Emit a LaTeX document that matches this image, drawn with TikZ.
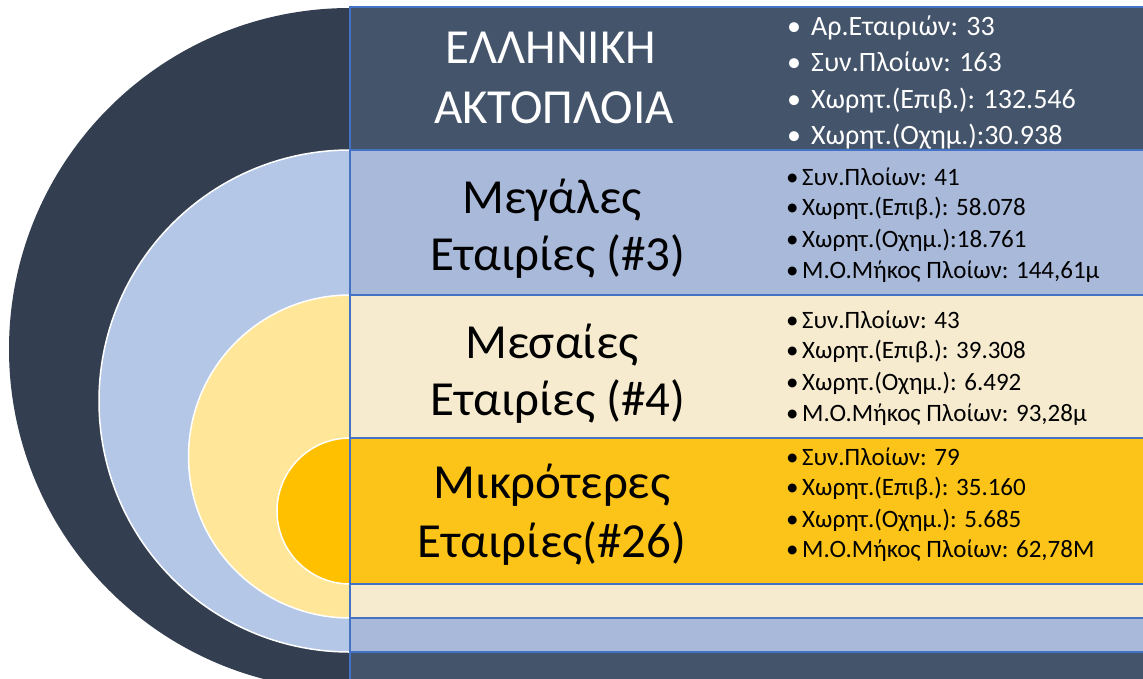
\documentclass[tikz,border=0pt]{standalone}
\usepackage{fontspec}
\setmainfont{Carlito}
\definecolor{darkband}{HTML}{44546A}
\definecolor{darkell}{HTML}{333F50}
\definecolor{blueband}{HTML}{A9B9D9}
\definecolor{blueell}{HTML}{B4C7E7}
\definecolor{creamband}{HTML}{F6EBCF}
\definecolor{creamell}{HTML}{FFE699}
\definecolor{yelband}{HTML}{FCC419}
\definecolor{yelell}{HTML}{FFC000}
\definecolor{sepline}{HTML}{4472C4}
\begin{document}
\begin{tikzpicture}[x=1pt,y=-1pt,
  band/.style={draw=sepline, line width=1.5pt},
  ell/.style={draw=white, line width=1.5pt},
  title/.style={anchor=base, inner sep=0pt, font=\fontsize{49}{58}\selectfont},
  topitem/.style={anchor=base west, inner sep=0pt, text=white, font=\fontsize{28}{34}\selectfont},
  item/.style={anchor=base west, inner sep=0pt, text=black, font=\fontsize{25}{30}\selectfont},
]
\useasboundingbox (0,0) rectangle (1143,678);
\fill[white] (0,0) rectangle (1143,678);

% half circles on the left
\begin{scope}
  \clip (0,0) rectangle (350,678);
  \fill[darkell] (350,349) circle[radius=341pt];
  \filldraw[ell, fill=blueell] (350,401) circle[radius=251pt];
  \filldraw[ell, fill=creamell] (350,456.5) circle[radius=161.5pt];
  \filldraw[ell, fill=yelell] (350,511) circle[radius=73pt];
\end{scope}

% bands on the right
\begin{scope}
  \clip (0,0) rectangle (1143,678);
  \filldraw[band, fill=darkband] (350,7) rectangle (1150,150);
  \filldraw[band, fill=blueband] (350,150) rectangle (1150,295);
  \filldraw[band, fill=creamband] (350,295) rectangle (1150,438);
  \filldraw[band, fill=yelband] (350,438) rectangle (1150,584);
  \filldraw[band, fill=creamband] (350,584) rectangle (1150,618);
  \filldraw[band, fill=blueband] (350,618) rectangle (1150,652);
  \filldraw[band, fill=darkband] (350,652) rectangle (1150,690);
\end{scope}

% titles
\node[title, text=white] (t1a) at (551,63) {ΕΛΛΗΝΙΚΗ};
\node[title, text=white] (t1b) at (554,123) {ΑΚΤΟΠΛΟΙΑ};
\node[title] (t2a) at (552,213) {Μεγάλες};
\node[title] (t2b) at (558,270) {Εταιρίες (\#3)};
\node[title] (t3a) at (552,358) {Μεσαίες};
\node[title] (t3b) at (558,415) {Εταιρίες (\#4)};
\node[title] (t4a) at (552,498) {Μικρότερες};
\node[title] (t4b) at (552,557) {Εταιρίες(\#26)};

% bullet lists
\node[topitem] (a1) at (787,35) {\makebox[24pt][l]{•}Αρ.Εταιριών: 33};
\node[topitem] (a2) at (787,71.5) {\makebox[24pt][l]{•}Συν.Πλοίων: 163};
\node[topitem] (a3) at (787,108) {\makebox[24pt][l]{•}Χωρητ.(Επιβ.): 132.546};
\node[topitem] (a4) at (787,144.5) {\makebox[24pt][l]{•}Χωρητ.(Οχημ.):30.938};

\node[item] (b1) at (786,185) {\makebox[16pt][l]{•}Συν.Πλοίων: 41};
\node[item] (b2) at (786,215.5) {\makebox[16pt][l]{•}Χωρητ.(Επιβ.): 58.078};
\node[item] (b3) at (786,247) {\makebox[16pt][l]{•}Χωρητ.(Οχημ.):18.761};
\node[item] (b4) at (786,278) {\makebox[16pt][l]{•}Μ.Ο.Μήκος Πλοίων: 144,61μ};

\node[item] (c1) at (786,328) {\makebox[16pt][l]{•}Συν.Πλοίων: 43};
\node[item] (c2) at (786,358.5) {\makebox[16pt][l]{•}Χωρητ.(Επιβ.): 39.308};
\node[item] (c3) at (786,390) {\makebox[16pt][l]{•}Χωρητ.(Οχημ.): 6.492};
\node[item] (c4) at (786,421.5) {\makebox[16pt][l]{•}Μ.Ο.Μήκος Πλοίων: 93,28μ};

\node[item] (d1) at (786,465) {\makebox[16pt][l]{•}Συν.Πλοίων: 79};
\node[item] (d2) at (786,495.5) {\makebox[16pt][l]{•}Χωρητ.(Επιβ.): 35.160};
\node[item] (d3) at (786,527) {\makebox[16pt][l]{•}Χωρητ.(Οχημ.): 5.685};
\node[item] (d4) at (786,557) {\makebox[16pt][l]{•}Μ.Ο.Μήκος Πλοίων: 62,78Μ};
\end{tikzpicture}
\end{document}
